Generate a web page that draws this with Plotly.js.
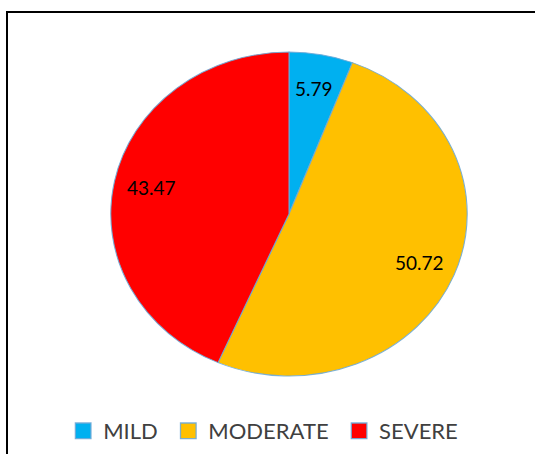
<!DOCTYPE html>
<html>
<head>
<meta charset="utf-8">
<script src="https://cdn.plot.ly/plotly-3.0.1.min.js"></script>
<style>
  html, body { margin: 0; padding: 0; background: #ffffff; }
  #wrap { position: relative; width: 535px; height: 454px; overflow: hidden; }
  #chart { width: 535px; height: 454px; }
  #frame { position: absolute; left: 6px; top: 11px; width: 560px; height: 480px;
           border: 2px solid #000; box-sizing: border-box; pointer-events: none; }
</style>
</head>
<body>
<div id="wrap">
  <div id="chart"></div>
  <div id="frame"></div>
</div>
<script>
const categories = ['MILD', 'MODERATE', 'SEVERE'];
const values = [5.79, 50.72, 43.47];
const colors = ['#00B0F0', '#FFC000', '#FF0000'];

// geometry of the plot area (pixels)
const W = 535, H = 454;
const M = { l: 43, r: 0, t: 52, b: 78 };
const plotW = W - M.l - M.r, plotH = H - M.t - M.b;
const stretchX = 1.1;          // reference pie is slightly elliptical
const labelR = 0.79;           // data labels at ~79% of the radius

// data labels placed at the mid-angle of each slice (computed from the values)
const total = values.reduce((a, b) => a + b, 0);
let cum = 0;
const annotations = values.map(function (v, i) {
  const mid = (cum + v / 2) / total * 2 * Math.PI;
  cum += v;
  const rPix = plotH / 2;
  const cx = M.l + plotW / 2, cy = M.t + plotH / 2;
  const px = cx + labelR * rPix * stretchX * Math.sin(mid);
  const py = cy - labelR * rPix * Math.cos(mid);
  return {
    xref: 'paper', yref: 'paper',
    x: (px - M.l) / plotW, y: (M.t + plotH - py) / plotH,
    xanchor: 'center', yanchor: 'middle',
    text: v.toFixed(2), showarrow: false,
    font: { family: 'Lato, "Open Sans", sans-serif', size: 19, color: '#000000' }
  };
});

const trace = {
  type: 'pie',
  labels: categories,
  values: values,
  sort: false,
  direction: 'clockwise',
  rotation: 0,
  textinfo: 'none',
  marker: { colors: colors, line: { color: 'rgba(110,170,215,0.9)', width: 1 } },
  hoverinfo: 'none'
};

const layout = {
  width: W,
  height: H,
  margin: M,
  paper_bgcolor: '#ffffff',
  showlegend: true,
  annotations: annotations,
  legend: {
    orientation: 'h',
    x: 0.041, xanchor: 'left',
    y: -0.105, yanchor: 'top',
    font: { family: 'Lato, "Open Sans", sans-serif', size: 22, color: '#404040' },
    traceorder: 'normal'
  }
};

Plotly.newPlot('chart', [trace], layout, { displayModeBar: false, staticPlot: true }).then(function () {
  const g = document.querySelector('.pielayer');
  if (g) {
    const cx = M.l + plotW / 2;
    g.setAttribute('transform', 'translate(' + cx + ',0) scale(' + stretchX + ',1) translate(' + (-cx) + ',0)');
  }
  document.querySelectorAll('.legend [clip-path]').forEach(function (el) {
    el.removeAttribute('clip-path');
  });
  document.querySelectorAll('.legend .legendpoints path').forEach(function (p) {
    const t = p.getAttribute('transform') || '';
    p.setAttribute('transform', t + ' scale(1.3)');
  });
  // slightly wider gaps between legend entries, as in the reference
  document.querySelectorAll('.legend .traces').forEach(function (tr, i) {
    const t = tr.getAttribute('transform') || '';
    tr.setAttribute('transform', 'translate(' + (i * 5.5) + ',0) ' + t);
  });
});
</script>
</body>
</html>
